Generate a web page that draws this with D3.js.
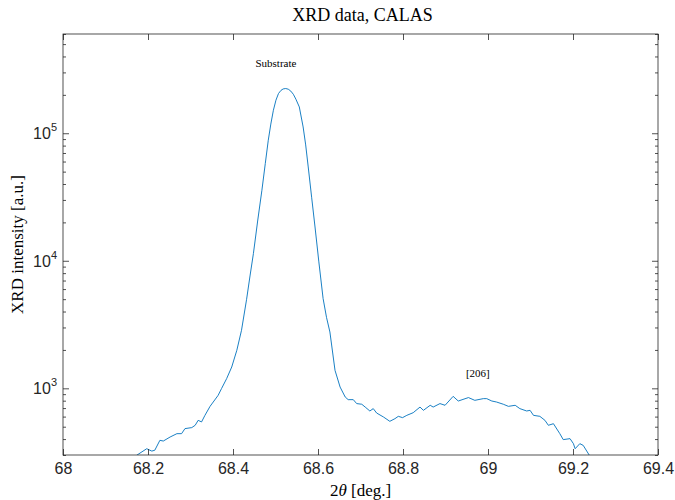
<!DOCTYPE html>
<html>
<head>
<meta charset="utf-8">
<script src="https://cdn.jsdelivr.net/npm/d3@7"></script>
<style>
body { margin: 0; background: #fff; }
.tick text { font-family: "Liberation Sans", Arial, sans-serif; }
</style>
</head>
<body>
<div class="root"></div>
<script>
// XRD scan
var twoTheta = [68.153, 68.173, 68.197, 68.209, 68.216, 68.228, 68.236, 68.252, 68.268, 68.279,
  68.287, 68.303, 68.311, 68.318, 68.326, 68.334, 68.346, 68.365, 68.373, 68.385,
  68.397, 68.409, 68.420, 68.432, 68.440, 68.448, 68.458, 68.468, 68.476, 68.483,
  68.489, 68.495, 68.501, 68.507, 68.513, 68.518, 68.524, 68.530, 68.536, 68.542,
  68.548, 68.556, 68.565, 68.571, 68.577, 68.585, 68.593, 68.602, 68.612, 68.620,
  68.628, 68.640, 68.652, 68.664,
  68.671, 68.683, 68.691, 68.703, 68.711, 68.722, 68.730, 68.738, 68.754, 68.769,
  68.781, 68.789, 68.799, 68.809, 68.824, 68.840, 68.848, 68.864, 68.871, 68.887,
  68.899, 68.918, 68.930, 68.954, 68.969, 68.989, 68.997, 69.009, 69.020, 69.036,
  69.048, 69.064, 69.075, 69.091, 69.099, 69.107, 69.122, 69.134, 69.142, 69.154,
  69.169, 69.177, 69.193, 69.201, 69.205, 69.216, 69.224, 69.240, 69.251];
var intensity = [250, 298, 336, 322, 327, 391, 386, 415, 441, 441,
  483, 492, 513, 561, 545, 614, 722, 881, 995, 1191,
  1469, 1986, 2851, 4989, 7600, 11380, 20500, 35700, 58000, 88100,
  118000, 151400, 181500, 204800, 217000, 222500, 224200, 221500, 214000, 202000,
  184900, 160800, 112000, 81000, 54400, 31500, 18400, 9800, 5057, 3600,
  2765, 1384, 1023, 855,
  815, 815, 759, 750, 713, 664, 693, 640, 596, 551,
  578, 603, 589, 614, 644, 713, 672, 736, 713, 759,
  736, 865, 795, 846, 805, 830, 830, 795, 781, 750,
  722, 736, 693, 664, 672, 614, 603, 561, 513, 528,
  441, 396, 403, 368, 336, 368, 357, 293, 250];

var xTicks = [68, 68.2, 68.4, 68.6, 68.8, 69, 69.2, 69.4];
var yMajor = [1e3, 1e4, 1e5];
var peakNames = ["Substrate", "[206]"];
var peakTheta = [68.501, 68.976];
var peakLevel = [354000, 1312];

var width = 675, height = 500;
var mLeft = 63, mRight = 658, mTop = 34, mBottom = 455;
var serif = '"Liberation Serif", "DejaVu Serif", serif';
var axisColor = "#262626";

var svg = d3.select(".root").append("svg")
  .attr("width", width)
  .attr("height", height);

var x = d3.scaleLinear().domain([68, 69.4]).range([mLeft, mRight]);
var y = d3.scaleLog().domain([300, 6e5]).range([mBottom, mTop]);

// minor ticks for the log axis
var yMinor = [];
for (var k = 2; k <= 5; k++) {
  for (var m = 2; m <= 9; m++) {
    var v = m * Math.pow(10, k);
    if (v >= 300 && v <= 6e5) yMinor.push(v);
  }
}

svg.append("clipPath").attr("id", "plotclip")
  .append("rect")
  .attr("x", mLeft).attr("y", mTop)
  .attr("width", mRight - mLeft).attr("height", mBottom - mTop);

var line = d3.line()
  .x(function (d, i) { return x(twoTheta[i]); })
  .y(function (d) { return y(d); });

svg.append("path")
  .datum(intensity)
  .attr("clip-path", "url(#plotclip)")
  .attr("fill", "none")
  .attr("stroke", "#0072BD")
  .attr("stroke-width", 0.9)
  .attr("d", line);

// axes: bottom/top for x, left/right for y
function styleAxis(g) {
  g.select(".domain").remove();
  g.selectAll(".tick line").attr("stroke", axisColor).attr("stroke-width", 0.8);
  g.selectAll(".tick text").attr("fill", axisColor).attr("font-size", 16);
}

svg.append("g")
  .attr("transform", "translate(0," + mBottom + ")")
  .call(d3.axisBottom(x).tickValues(xTicks).tickSize(-6).tickPadding(8)
    .tickFormat(function (d) { return d3.format("~g")(d); }))
  .call(styleAxis);

svg.append("g")
  .attr("transform", "translate(0," + mTop + ")")
  .call(d3.axisTop(x).tickValues(xTicks).tickSize(-6).tickFormat(""))
  .call(styleAxis);

[mLeft, mRight].forEach(function (pos) {
  var mk = function () { return pos === mLeft ? d3.axisLeft(y) : d3.axisRight(y); };
  svg.append("g")
    .attr("transform", "translate(" + pos + ",0)")
    .call(mk().tickValues(yMajor).tickSize(-6).tickFormat(""))
    .call(styleAxis);
  svg.append("g")
    .attr("transform", "translate(" + pos + ",0)")
    .call(mk().tickValues(yMinor).tickSize(-3).tickFormat(""))
    .call(styleAxis);
});

// y tick labels as 10^n
var yLab = svg.append("g").selectAll("text")
  .data(yMajor)
  .enter().append("text")
  .attr("x", mLeft - 6)
  .attr("y", function (d) { return y(d) + 6; })
  .attr("text-anchor", "end")
  .attr("fill", axisColor)
  .attr("font-family", '"Liberation Sans", Arial, sans-serif')
  .attr("font-size", 16);
yLab.append("tspan").text("10");
yLab.append("tspan")
  .attr("font-size", 11)
  .attr("dy", -8)
  .text(function (d) { return Math.round(Math.log10(d)); });

// box
svg.append("rect")
  .attr("x", mLeft).attr("y", mTop)
  .attr("width", mRight - mLeft).attr("height", mBottom - mTop)
  .attr("fill", "none")
  .attr("stroke", axisColor)
  .attr("stroke-width", 0.8);

// title and labels
svg.append("text")
  .attr("x", (mLeft + mRight) / 2 + 2)
  .attr("y", 21)
  .attr("text-anchor", "middle")
  .attr("font-family", serif)
  .attr("font-size", 18)
  .attr("fill", "#000")
  .text("XRD data, CALAS");

var xl = svg.append("text")
  .attr("x", (mLeft + mRight) / 2)
  .attr("y", 496)
  .attr("text-anchor", "middle")
  .attr("font-family", serif)
  .attr("font-size", 17)
  .attr("fill", "#000");
xl.append("tspan").text("2");
xl.append("tspan").attr("font-style", "italic").text("θ");
xl.append("tspan").text(" [deg.]");

svg.append("text")
  .attr("transform", "translate(23," + (mTop + mBottom) / 2 + ") rotate(-90)")
  .attr("text-anchor", "middle")
  .attr("font-family", serif)
  .attr("font-size", 17)
  .attr("fill", "#000")
  .text("XRD intensity [a.u.]");

svg.append("g").selectAll("text")
  .data(peakNames)
  .enter().append("text")
  .attr("x", function (d, i) { return x(peakTheta[i]); })
  .attr("y", function (d, i) { return y(peakLevel[i]) + 4; })
  .attr("text-anchor", "middle")
  .attr("font-family", serif)
  .attr("font-size", 11)
  .attr("fill", "#000")
  .text(function (d) { return d; });
</script>
</body>
</html>
